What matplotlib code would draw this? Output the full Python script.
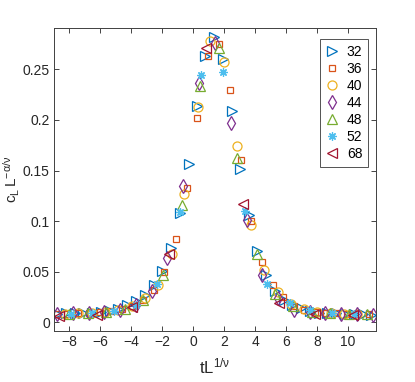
import matplotlib
matplotlib.use('Agg')
import matplotlib.pyplot as plt

plt.rcParams['font.family'] = ['Liberation Sans', 'DejaVu Sans']
plt.rcParams['mathtext.fontset'] = 'custom'
plt.rcParams['mathtext.rm'] = 'Liberation Sans'
plt.rcParams['mathtext.it'] = 'Liberation Sans:italic'

# system sizes
sizes = ['32', '36', '40', '44', '48', '52', '68']

# L = 32
x32 = [-8.80, -8.23, -7.67, -7.10, -6.54, -5.97, -5.40, -4.84, -4.27, -3.70, -3.14, -2.55,
       -2.02, -1.46, -0.86, -0.30, 0.24, 0.77, 1.35, 1.90, 2.48, 3.01, 3.59, 4.13, 4.71,
       5.30, 5.85, 6.40, 6.97, 7.53, 8.10, 8.66, 9.23, 9.80, 10.36, 10.93, 11.45]
y32 = [0.0085, 0.0088, 0.0090, 0.0092, 0.0095, 0.0100, 0.0112, 0.0135, 0.0170, 0.0210, 0.027, 0.037,
       0.051, 0.074, 0.108, 0.157, 0.214, 0.263, 0.282, 0.260, 0.209, 0.152, 0.106, 0.071, 0.047,
       0.031, 0.022, 0.017, 0.014, 0.011, 0.0095, 0.0090, 0.0088, 0.0085, 0.0082, 0.0080, 0.0078]
# L = 36
x36 = [-8.83, -8.13, -7.43, -6.73, -6.03, -5.33, -4.63, -3.93, -3.23, -2.53, -1.87, -1.14,
       -0.43, 0.26, 0.93, 1.66, 2.35, 3.06, 3.72, 4.45, 5.15, 5.81, 6.50, 7.14, 7.84,
       8.54, 9.24, 9.94, 10.64, 11.34]
y36 = [0.0082, 0.0086, 0.0090, 0.0093, 0.0098, 0.0110, 0.0130, 0.0160, 0.022, 0.032, 0.050, 0.082,
       0.133, 0.202, 0.263, 0.275, 0.230, 0.160, 0.100, 0.060, 0.037, 0.025, 0.016, 0.0126, 0.0105,
       0.0092, 0.0088, 0.0085, 0.0082, 0.0080]
# L = 40
x40 = [-8.28, -7.42, -6.56, -5.70, -4.84, -3.98, -3.12, -2.25, -1.39, -0.58, 0.30, 1.10,
       1.98, 2.84, 3.70, 4.56, 5.44, 6.30, 7.16, 8.02, 8.88, 9.74, 10.60]
y40 = [0.0085, 0.0090, 0.0092, 0.0100, 0.0120, 0.0160, 0.024, 0.037, 0.068, 0.127, 0.213, 0.278,
       0.257, 0.174, 0.096, 0.052, 0.030, 0.018, 0.013, 0.0100, 0.0088, 0.0085, 0.0082]
# L = 44
x44 = [-8.80, -7.78, -6.76, -5.74, -4.72, -3.70, -2.68, -1.67, -0.66, 0.37, 1.40, 2.41,
       3.44, 4.45, 5.47, 6.49, 7.51, 8.53, 9.55, 10.57, 11.59]
y44 = [0.0082, 0.0088, 0.0092, 0.0100, 0.0125, 0.0170, 0.031, 0.064, 0.135, 0.237, 0.276, 0.197,
       0.101, 0.047, 0.024, 0.0126, 0.0105, 0.0090, 0.0085, 0.0080, 0.0072]
# L = 48
x48 = [-8.03, -6.83, -5.63, -4.43, -3.23, -1.97, -0.75, 0.43, 1.66, 2.84, 4.09, 5.25,
       6.45, 7.65, 8.85, 10.05, 11.25]
y48 = [0.0085, 0.0090, 0.0105, 0.0130, 0.022, 0.047, 0.116, 0.234, 0.271, 0.162, 0.068, 0.028,
       0.016, 0.0105, 0.0090, 0.0085, 0.0080]
# L = 52
x52 = [-7.92, -6.52, -5.12, -3.72, -2.32, -0.86, 0.50, 1.92, 3.34, 4.74, 6.24, 7.53,
       8.95, 10.35]
y52 = [0.0085, 0.0092, 0.0115, 0.0170, 0.038, 0.109, 0.244, 0.247, 0.110, 0.038, 0.019, 0.0119,
       0.0092, 0.0085]
# L = 68
x68 = [-8.70, -6.25, -3.95, -1.55, 0.80, 3.21, 5.55, 7.85, 10.30]
y68 = [0.0065, 0.0078, 0.0155, 0.068, 0.271, 0.117, 0.019, 0.0086, 0.0075]

xs = [x32, x36, x40, x44, x48, x52, x68]
ys = [y32, y36, y40, y44, y48, y52, y68]
colors = ['#0072BD', '#D95319', '#EDB120', '#7E2F8E', '#77AC30', '#4DBEEE', '#A2142F']
markers = ['>', 's', 'o', 'd', '^', (8, 2, 0), '<']
msizes = [7, 5, 6.5, 7, 7, 6, 7]

fig = plt.figure(figsize=(4.15, 3.82), dpi=100)
ax = fig.add_axes([0.130, 0.1335, 0.776, 0.7935])

for x, y, c, m, s, lab in zip(xs, ys, colors, markers, msizes, sizes):
    ax.plot(x, y, linestyle='none', marker=m, markersize=s, markerfacecolor='none',
            markeredgecolor=c, markeredgewidth=0.9, label=lab)

ax.set_xlim(-9, 11.8)
ax.set_ylim(-0.0085, 0.291)
ax.set_xticks([-8, -6, -4, -2, 0, 2, 4, 6, 8, 10])
ax.set_yticks([0, 0.05, 0.1, 0.15, 0.2, 0.25])
ax.set_yticklabels(['0', '0.05', '0.1', '0.15', '0.2', '0.25'])
ax.tick_params(direction='in', length=3.5, width=0.6, top=True, right=True,
               labelsize=10, colors='#262626', pad=3)
for sp in ax.spines.values():
    sp.set_color('#404040')
    sp.set_linewidth(0.7)

ax.set_xlabel(r'$\mathregular{tL^{1/\nu}}$', fontsize=12, color='#262626', labelpad=5)
ax.set_ylabel(r'$\mathregular{c_L\,L^{-\alpha/\nu}}$', fontsize=11, color='#262626')
ax.yaxis.set_label_coords(-0.1, 0.5)

leg = ax.legend(loc='upper right', fontsize=10, frameon=True, fancybox=False,
                edgecolor='#262626', handletextpad=0.6, borderpad=0.4,
                labelspacing=0.22, handlelength=0.9, borderaxespad=0,
                bbox_to_anchor=(0.975, 0.963))
leg.get_frame().set_linewidth(0.7)

fig.savefig('out.png', dpi=100)
